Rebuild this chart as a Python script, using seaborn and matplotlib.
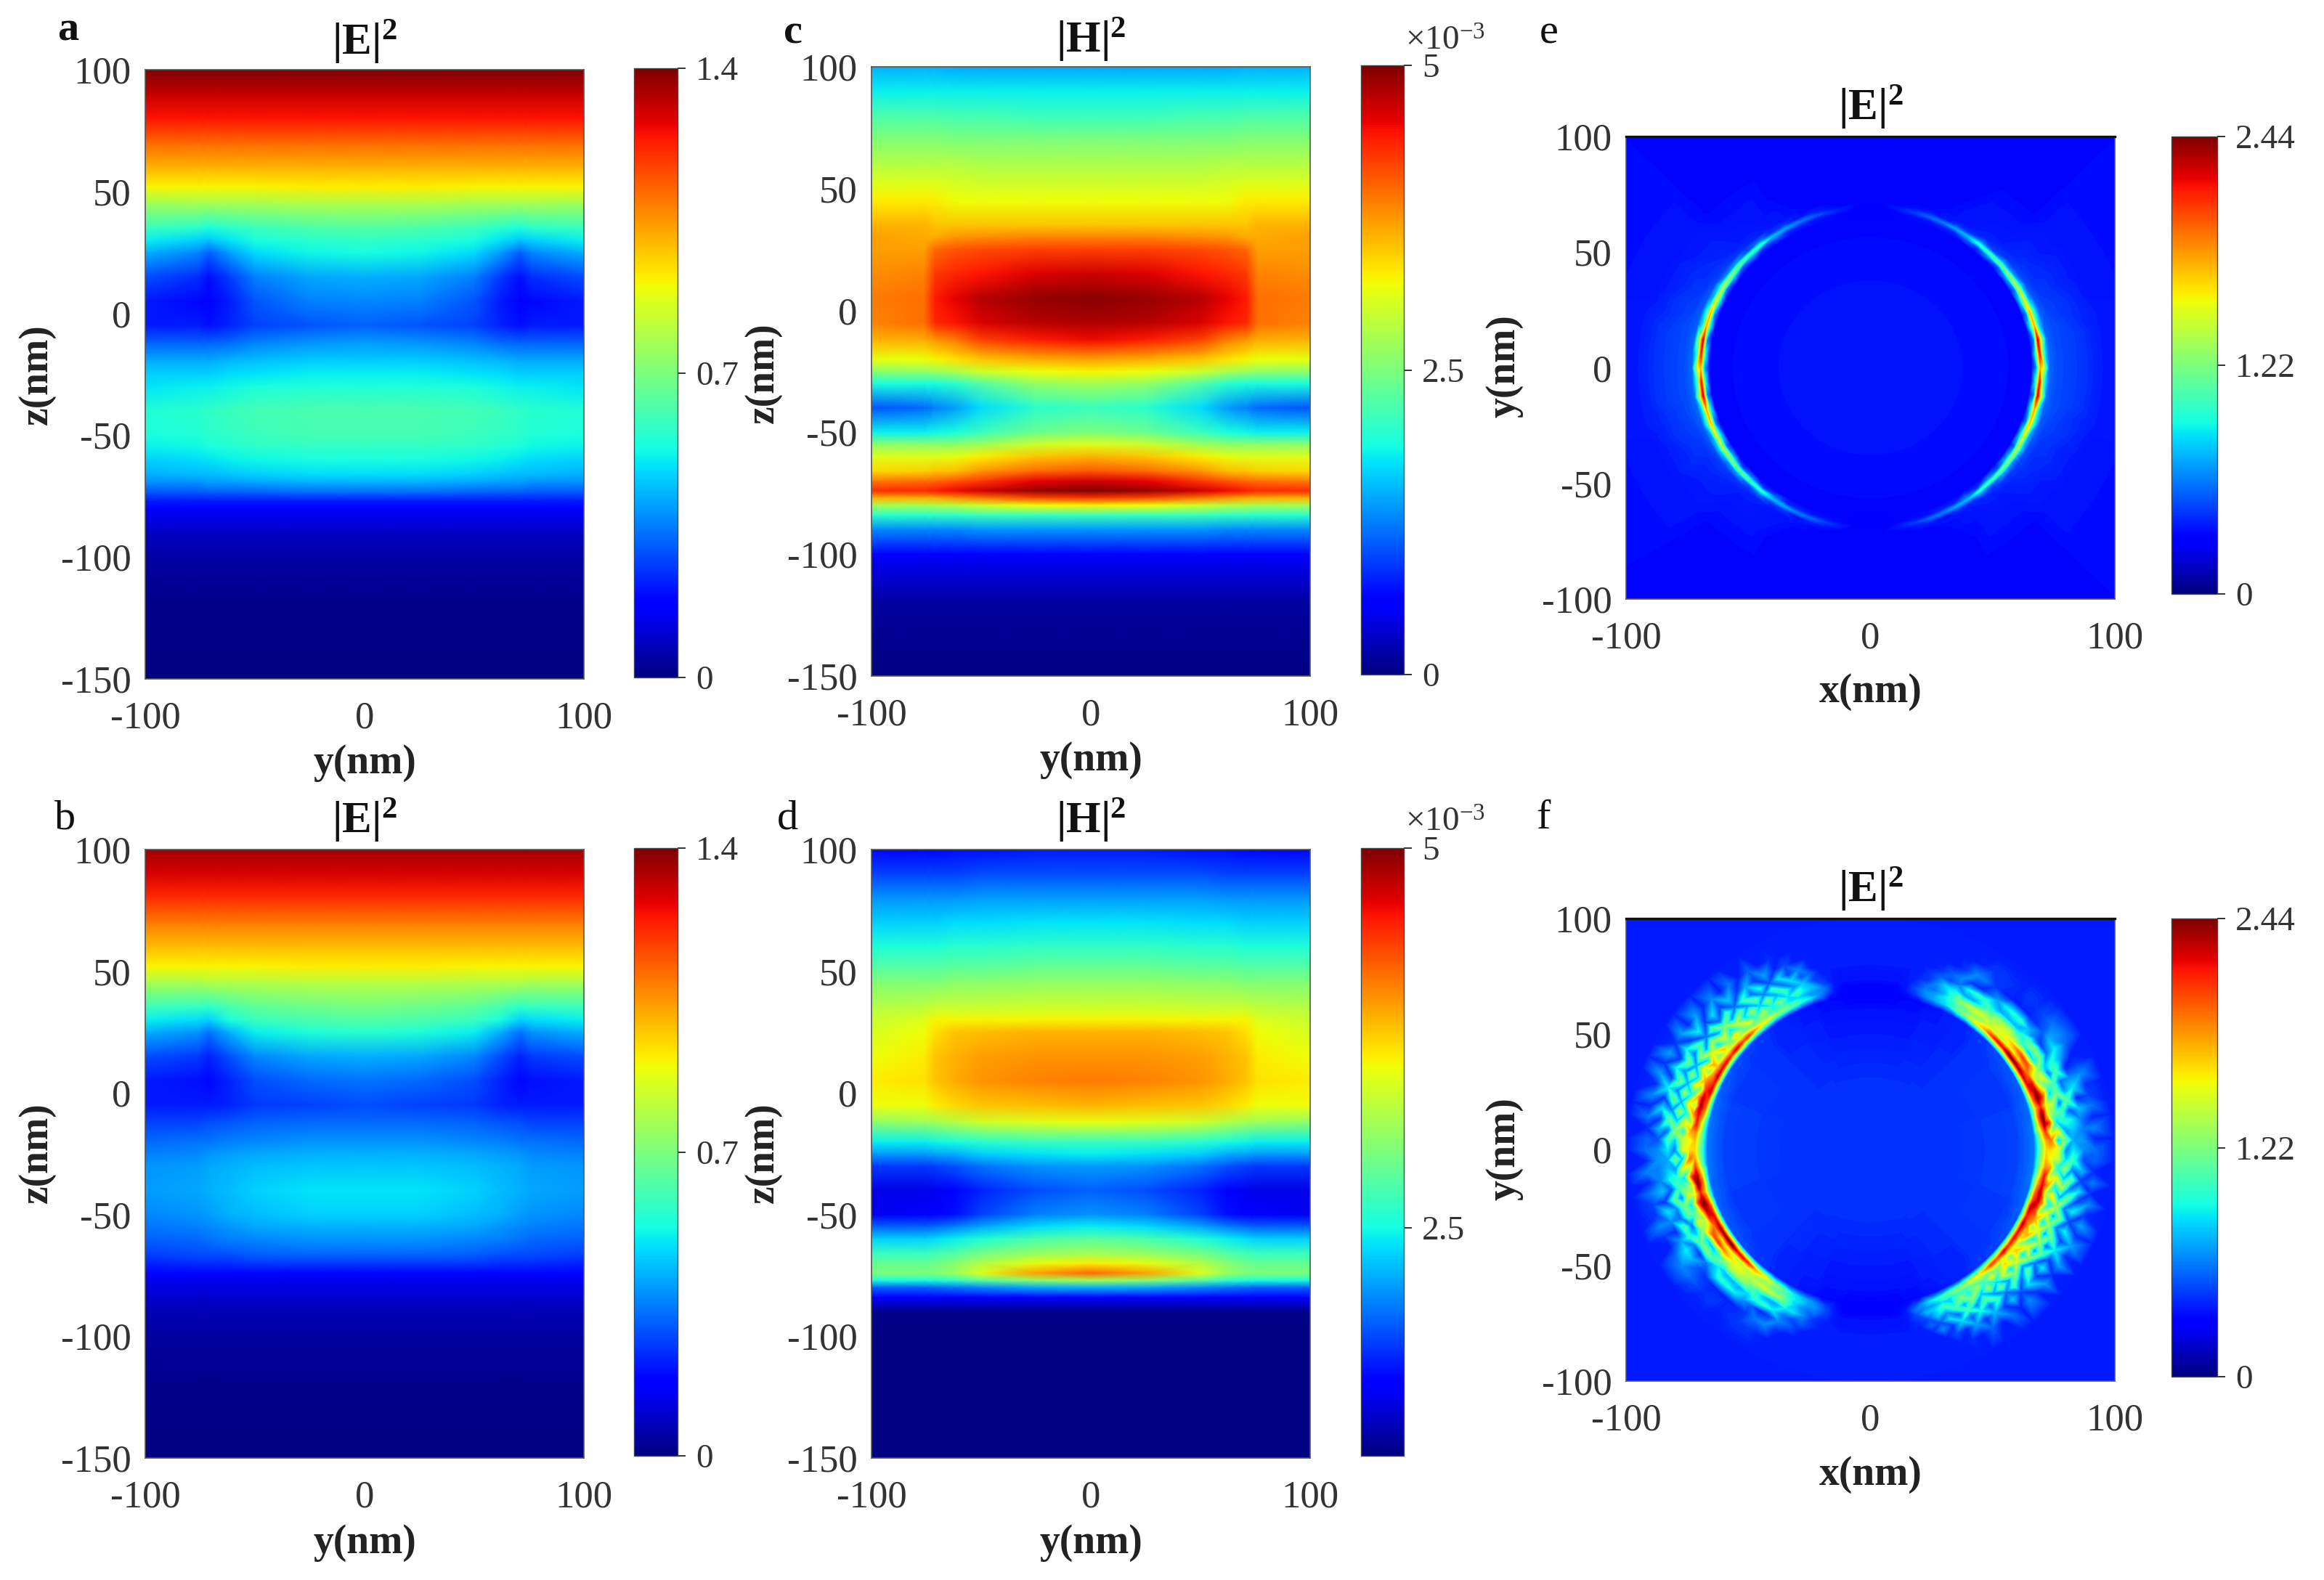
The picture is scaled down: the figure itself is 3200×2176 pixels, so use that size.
import numpy as np
import matplotlib
matplotlib.use("Agg")
import matplotlib.pyplot as plt
from matplotlib.transforms import Transform
import seaborn as sns

sns.set_style("white")
plt.rcParams.update({
    "font.family": "Liberation Serif",
    "mathtext.fontset": "custom",
    "mathtext.rm": "Liberation Serif",
    "mathtext.bf": "Liberation Serif:bold",
    "mathtext.it": "Liberation Serif:italic",
})

W, H = 3200, 2176
TXT = "#333333"

# Sample positions (nm) of the section tables, right half; the fields are mirror symmetric in y
Y_HALF = [0, 25, 50, 62, 71, 76, 100]
Z_NM = [100, 90, 80, 70, 60, 52, 45, 35, 30, 25, 15, 5, -5, -12, -20, -25, -30, -40, -50, -55,
        -60, -66, -70, -74, -77, -80, -84, -90, -100, -120, -150]

# Field values, read as percent of each colour bar's span
PANEL_A = [
 [100]*7, [94]*7, [89]*7, [80]*7, [72]*7,
 [66,66,65,65,65,65,65], [56,56,55,55,55,55,54], [45,44,42,40,38,40,42], [41,40,38,35,32,33,36],
 [38,37,34,28,22,26,30], [30,29,25,18,14,17,20], [26,25,21,15,11,13,15], [22,21,19,16,14,15,15],
 [28,27,25,23,22,22,22], [33,33,32,31,30,30,30], [36,36,35,34,33,33,33], [39,39,38,37,36,36,35],
 [44,44,43,42,41,40,39], [43,43,42,41,40,39,38], [41,41,40,39,38,37,36], [38,38,37,36,35,34,33],
 [34,34,33,32,31,31,30], [29,29,28,27,27,26,26], [22,22,21,21,21,20,20], [15]*7, [11]*7, [9]*7,
 [6]*7, [3.5]*7, [1]*7, [0]*7]
PANEL_B = [
 [97]*7, [92]*7, [86]*7, [78]*7, [71]*7,
 [66,66,65,65,65,65,65], [57,57,56,56,56,55,55], [49,48,46,43,40,41,42], [45,44,42,38,33,34,36],
 [40,39,36,30,24,27,30], [30,29,26,20,16,18,20], [24,23,20,16,13,14,15], [20,19,18,16,15,15,15],
 [23,23,22,21,20,19,19], [27,27,26,25,24,24,23], [30,30,29,28,27,26,25], [32,32,31,30,29,28,27],
 [35,35,33,31,30,29,28], [33,33,31,30,28,27,26], [30,30,29,27,26,25,24], [27,27,26,25,24,23,22],
 [23,23,22,21,20,20,19], [18,18,18,17,17,17,16], [13]*7, [10]*7, [8.5]*7, [7]*7,
 [5]*7, [3]*7, [1]*7, [0]*7]
PANEL_C = [
 [29,29,29,29,30,30,30], [36]*7, [42,42,43,43,44,44,44], [50,50,50,50,51,51,51], [56,56,56,57,57,57,57],
 [60,60,60,61,62,62,62], [64,64,64,64,66,66,66], [70,70,70,70,70,72,72], [77,77,76,75,73,73,74],
 [84,84,83,82,80,74,74], [93,92,89,87,85,77,76], [99,98,95,91,88,79,78], [96,95,92,89,87,79,77],
 [90,88,84,78,75,73,72], [74,73,70,67,65,64,63], [65,64,60,56,54,53,52], [55,53,45,40,38,38,38],
 [42,40,34,28,25,23,21], [50,48,42,38,37,36,36], [62,60,54,52,52,52,52], [72,70,66,63,62,62,62],
 [82,80,75,71,70,69,68], [93,91,85,82,80,79,78], [100,98,93,90,88,87,86], [85,83,78,75,73,72,72],
 [65,64,60,57,56,55,55], [42,42,42,41,41,40,40], [27,27,27,26,26,26,26], [12]*7, [3]*7, [0]*7]
PANEL_D = [
 [15,15,14,14,13,13,13], [20,20,20,19,19,19,19], [28,28,28,27,27,27,27], [35,35,34,34,33,33,33],
 [41,41,40,40,39,39,39], [47,47,46,46,45,45,45], [53,53,52,52,51,51,51], [60,60,59,59,59,58,57],
 [65,65,65,65,65,62,59], [72,72,71,70,67,64,61], [75,75,74,72,70,66,64], [78,77,75,73,70,67,66],
 [72,71,70,68,66,64,64], [63,62,60,57,55,54,52], [42,42,40,38,37,36,36], [36,35,33,30,29,28,28],
 [28,27,24,21,19,18,18], [22,20,16,12,10,9,9], [27,25,19,14,12,11,10], [36,34,29,25,23,22,22],
 [46,44,39,36,34,33,33], [55,53,49,45,43,42,42], [66,63,56,51,48,47,47], [80,74,62,54,51,50,50],
 [55,52,46,41,39,38,38], [30,29,26,24,23,22,22], [12,12,12,12,12,12,12], [1]*7, [0]*7, [0]*7, [0]*7]

# Planar maps: sampled on circles (radius nm, angle degrees)
R_E = [30, 60, 66, 68, 69.5, 71, 73, 76, 85, 95, 145]
THETA_E = [0, 5, 10, 15, 20, 25, 30, 35, 40, 45, 50, 55, 60, 65, 70, 75, 80, 85, 90]
PANEL_E = [
 [14,13,13,28,72,58,23,20,18,15,13], [14,13,13,40,88,42,23,20,18,15,13], [14,13,13,26,92,54,23,20,18,15,13],
 [14,13,13,38,72,36,22,20,17,15,13], [14,13,13,26,70,40,22,19,17,14,13], [14,13,13,36,60,30,21,18,16,14,13],
 [14,13,13,24,56,34,20,17,16,14,13], [14,13,13,30,50,26,19,17,15,14,13], [14,13,13,20,46,28,18,16,15,14,13],
 [14,13,13,26,42,20,17,15,14,13,13], [14,13,13,18,40,24,16,15,14,13,13], [14,13,13,22,30,17,15,14,14,13,13],
 [14,13,13,16,28,18,14,14,13,13,13], [14,13,13,16,24,14,14,13,13,13,13], [14,13,13,14,22,16,13,13,13,13,13],
 [14,13,13,14,18,14,13,13,13,13,13], [14,13,13,13,15,13,13,13,13,13,13], [14,13,12,12,12,13,13,13,13,13,13],
 [14,13,12,12,12,13,13,13,13,13,13]]

R_F = [30, 60, 67, 70, 72, 74, 77, 80, 83, 87, 92, 100]
THETA_F = list(range(0, 180, 3))
PANEL_F = [
 [17,19,24,50,68,67,60,24,35,26,23,15], [17,19,24,52,72,78,30,49,29,27,16,15], [17,19,24,60,84,57,62,27,32,25,25,15],
 [17,19,24,72,98,85,34,40,37,25,16,15], [17,19,23,78,100,62,47,43,21,31,24,15], [17,19,23,70,86,64,58,22,46,17,19,15],
 [17,18,23,80,100,85,32,48,26,35,18,15], [17,18,22,86,96,68,44,44,23,26,26,15], [17,18,22,90,88,55,62,23,44,16,18,15],
 [17,18,22,92,78,68,51,31,40,28,15,15], [17,18,21,96,72,83,34,48,23,36,23,15], [17,18,21,98,64,84,30,51,18,30,26,15],
 [17,18,20,100,62,76,39,44,24,21,24,15], [17,17,20,90,60,68,48,36,31,17,20,15], [17,17,19,90,56,64,55,29,40,16,17,15],
 [17,17,18,84,58,62,54,29,39,16,18,15], [17,17,18,72,60,56,52,28,36,16,16,15], [17,16,17,66,52,58,44,33,28,16,17,15],
 [17,16,16,58,54,60,36,40,22,18,18,15], [17,16,16,50,46,56,28,40,16,24,18,15], [17,15,15,44,46,52,28,36,18,26,16,15],
 [17,15,15,36,38,40,36,24,26,18,15,15], [17,15,14,32,34,30,34,20,22,15,15,15], [17,15,14,28,28,24,26,22,17,15,15,15],
 [17,14,13,24,26,24,18,18,15,15,15,15], [17,14,13,18,20,18,16,15,15,15,15,15], [17,14,13,14,15,15,15,15,15,15,15,15],
 [17,14,12,12,13,14,14,15,15,15,15,15], [17,14,12,12,13,14,14,15,15,15,15,15], [17,14,12,12,13,14,14,15,15,15,15,15],
 [17,14,12,12,13,14,14,15,15,15,15,15], [17,14,12,12,13,14,14,15,15,15,15,15], [17,14,12,12,13,14,14,15,15,15,15,15],
 [17,14,12,12,13,14,14,15,15,15,15,15], [17,14,13,14,15,15,15,15,15,15,15,15], [17,14,13,20,24,20,17,15,15,15,15,15],
 [17,14,13,28,26,30,20,22,16,15,15,15], [17,15,14,36,28,34,32,20,26,15,15,15], [17,15,14,40,34,42,26,34,18,20,15,15],
 [17,15,15,46,34,34,42,22,34,16,17,15], [17,16,15,50,42,50,28,42,20,28,15,15], [17,16,16,52,40,36,50,24,38,17,22,15],
 [17,16,16,60,46,54,30,46,22,30,15,15], [17,16,17,64,50,40,54,26,42,18,24,15], [17,17,18,72,48,62,32,48,22,32,15,15],
 [17,17,18,84,56,46,58,26,44,18,26,15], [17,17,19,82,58,68,32,50,22,34,16,15], [17,17,19,92,60,48,60,26,46,18,28,15],
 [17,18,20,86,62,70,32,52,22,36,16,15], [17,18,20,90,64,50,62,26,46,18,28,15], [17,18,21,90,70,72,32,52,22,36,17,15],
 [17,18,21,94,74,52,62,26,48,18,28,15], [17,18,22,88,80,72,32,52,24,36,17,15], [17,18,22,94,86,54,62,28,48,18,28,15],
 [17,19,23,84,94,72,34,54,24,36,17,15], [17,19,23,80,96,56,64,28,48,18,26,15], [17,19,24,72,90,74,34,54,24,34,16,15],
 [17,19,24,62,88,58,62,30,46,18,24,15], [17,19,24,56,76,72,36,52,24,30,16,15], [17,19,24,52,70,62,58,32,42,20,22,15]]

# Colour bar spans and labels
RANGE_E = (0, 1.4)
RANGE_H = (0, 5)
RANGE_H_D = (1, 5)
RANGE_MAP = (0, 2.44)
TICKS_XY = [-100, 0, 100]
TICKS_Z = [-150, -100, -50, 0, 50, 100]
TICKS_MAP = [-100, -50, 0, 50, 100]


def to_units(table, rng):
    return rng[0] + np.asarray(table, float) / 100 * (rng[1] - rng[0])


class GridToNm(Transform):
    """Maps heatmap cell indices onto the non uniform y/z sample positions."""
    input_dims = output_dims = 2

    def __init__(self, xs, ys):
        super().__init__()
        self.xs, self.ys = np.asarray(xs, float), np.asarray(ys, float)

    def transform_non_affine(self, v):
        v = np.asarray(v, float)
        return np.column_stack([np.interp(v[:, 0], np.arange(self.xs.size), self.xs),
                                np.interp(v[:, 1], np.arange(self.ys.size), self.ys)])


def box(l, t, r, b):
    return [l / W, 1 - b / H, (r - l) / W, (b - t) / H]


fig = plt.figure(figsize=(W / 200, H / 200), dpi=200)


def finish(ax, cax, title, xlab, ylab, xticks, yticks, cticks, clabels, xl, yl, tx, heavy_top=False):
    ax.set_xticks(xticks, [str(v) for v in xticks])
    ax.set_yticks(yticks, [str(v) for v in yticks])
    ax.tick_params(axis="both", length=0, labelsize=19, labelcolor=TXT, labelrotation=0)
    ax.tick_params(axis="x", pad=11)
    ax.tick_params(axis="y", pad=7)
    for s in ax.spines.values():
        s.set_visible(True)
        s.set_linewidth(0.6)
        s.set_color("#555555")
    if heavy_top:
        ax.spines["top"].set_linewidth(1.2)
        ax.spines["top"].set_color("#111111")
    ax.set_xlabel(xlab, fontsize=20, fontweight="bold", color="#222222", va="center")
    ax.set_ylabel(ylab, fontsize=20, fontweight="bold", color="#222222", va="center", ha="center")
    ax.xaxis.set_label_coords(xl[0] / W, 1 - xl[1] / H, transform=fig.transFigure)
    ax.yaxis.set_label_coords(yl[0] / W, 1 - yl[1] / H, transform=fig.transFigure)
    fig.text(tx[0] / W, 1 - tx[1] / H, title, fontsize=22, ha="center", va="center", color="#111111")
    cb = ax.collections[0].colorbar
    cb.set_ticks(cticks, labels=clabels)
    cb.ax.tick_params(length=4, width=0.7, labelsize=17, labelcolor=TXT, pad=5, color="#333333", right=True)
    cb.outline.set_linewidth(0.5)
    cb.outline.set_edgecolor("#444444")


def section(table, rng, axbox, cbox, title, xl, yl, tx, cticks, clabels):
    ax = fig.add_axes(box(*axbox))
    cax = fig.add_axes(box(*cbox))
    half = to_units(table, rng)
    full = np.hstack([half[:, :0:-1], half])
    ys = np.r_[-np.asarray(Y_HALF[:0:-1], float), Y_HALF]
    sns.heatmap(full, ax=ax, cbar_ax=cax, cmap="jet", vmin=rng[0], vmax=rng[1],
                xticklabels=False, yticklabels=False, shading="gouraud",
                transform=GridToNm(ys, Z_NM) + ax.transData)
    ax.set_xlim(-100, 100)
    ax.set_ylim(-150, 100)
    finish(ax, cax, title, "y(nm)", "z(nm)", TICKS_XY, TICKS_Z, cticks, clabels, xl, yl, tx)


def ring_map(table, thetas, radii, axbox, cbox, xl, yl, tx):
    ax = fig.add_axes(box(*axbox))
    cax = fig.add_axes(box(*cbox))
    C = to_units(table, RANGE_MAP)
    background = C[:, [-1]].mean() * np.ones((2, 2))
    sns.heatmap(background, ax=ax, cbar_ax=cax, cmap="jet", vmin=RANGE_MAP[0], vmax=RANGE_MAP[1],
                xticklabels=False, yticklabels=False,
                transform=GridToNm([-100, 0, 100], [-100, 0, 100]) + ax.transData)
    ax.set_xlim(-100, 100)
    ax.set_ylim(-100, 100)
    T, R = np.meshgrid(np.radians(thetas), radii, indexing="ij")
    ax.tricontourf((R * np.cos(T)).ravel(), (R * np.sin(T)).ravel(), C.ravel(),
                   levels=np.linspace(RANGE_MAP[0], RANGE_MAP[1], 161), cmap="jet",
                   vmin=RANGE_MAP[0], vmax=RANGE_MAP[1], extend="both")
    finish(ax, cax, r"$\mathbf{|E|^2}$", "x(nm)", "y(nm)", TICKS_XY, TICKS_MAP,
           [0, 1.22, 2.44], ["0", "1.22", "2.44"], xl, yl, tx, heavy_top=True)


ce = [0, 0.7, 1.4], ["0", "0.7", "1.4"]
section(PANEL_A, RANGE_E, (200, 96, 804, 935), (873, 94, 933, 933), r"$\mathbf{|E|^2}$",
        (502, 1051), (51, 516), (502, 58), *ce)
section(PANEL_B, RANGE_E, (200, 1170, 804, 2008), (873, 1168, 933, 2005), r"$\mathbf{|E|^2}$",
        (502, 2125), (51, 1588), (502, 1130), *ce)
section(PANEL_C, RANGE_H, (1200, 92, 1804, 931), (1874, 90, 1933, 929), r"$\mathbf{|H|^2}$",
        (1502, 1047), (1051, 514), (1502, 55), [0, 2.5, 5], ["0", "2.5", "5"])
section(PANEL_D, RANGE_H_D, (1200, 1170, 1804, 2008), (1874, 1168, 1933, 2005), r"$\mathbf{|H|^2}$",
        (1502, 2125), (1051, 1588), (1502, 1130), [2.5, 5], ["2.5", "5"])

# Planar maps: quarter mirrored to the full turn for e, half turned by 180 degrees for f
th_e = np.asarray(THETA_E, float)
e_full = np.vstack([PANEL_E, np.asarray(PANEL_E)[-2::-1], np.asarray(PANEL_E)[1:], np.asarray(PANEL_E)[-2:0:-1]])
th_e_full = np.r_[th_e, 180 - th_e[-2::-1], 180 + th_e[1:], 360 - th_e[-2:0:-1]]
ring_map(e_full, th_e_full, R_E, (2239, 188, 2912, 825), (2990, 188, 3053, 818),
         (2576, 953), (2072, 504), (2576, 148))
f_full = np.vstack([PANEL_F, PANEL_F])
th_f_full = np.r_[THETA_F, np.asarray(THETA_F) + 180]
ring_map(f_full, th_f_full, R_F, (2239, 1265, 2912, 1902), (2990, 1265, 3053, 1896),
         (2576, 2031), (2072, 1582), (2576, 1225))

# Panel letters and colour bar exponent
LETTERS = [("a", 94, 41, "bold"), ("b", 90, 1127, "normal"), ("c", 1092, 45, "bold"),
           ("d", 1084, 1127, "normal"), ("e", 2133, 45, "normal"), ("f", 2125, 1127, "normal")]
for s, x, y, w in LETTERS:
    fig.text(x / W, 1 - y / H, s, fontsize=21, fontweight=w, ha="center", va="center", color="#111111")
for y in (57, 1133):
    fig.text(1990 / W, 1 - y / H, r"$\times10^{-3}$", fontsize=17, ha="center", va="center", color=TXT)

fig.savefig("out.png", dpi=200, facecolor="white")
